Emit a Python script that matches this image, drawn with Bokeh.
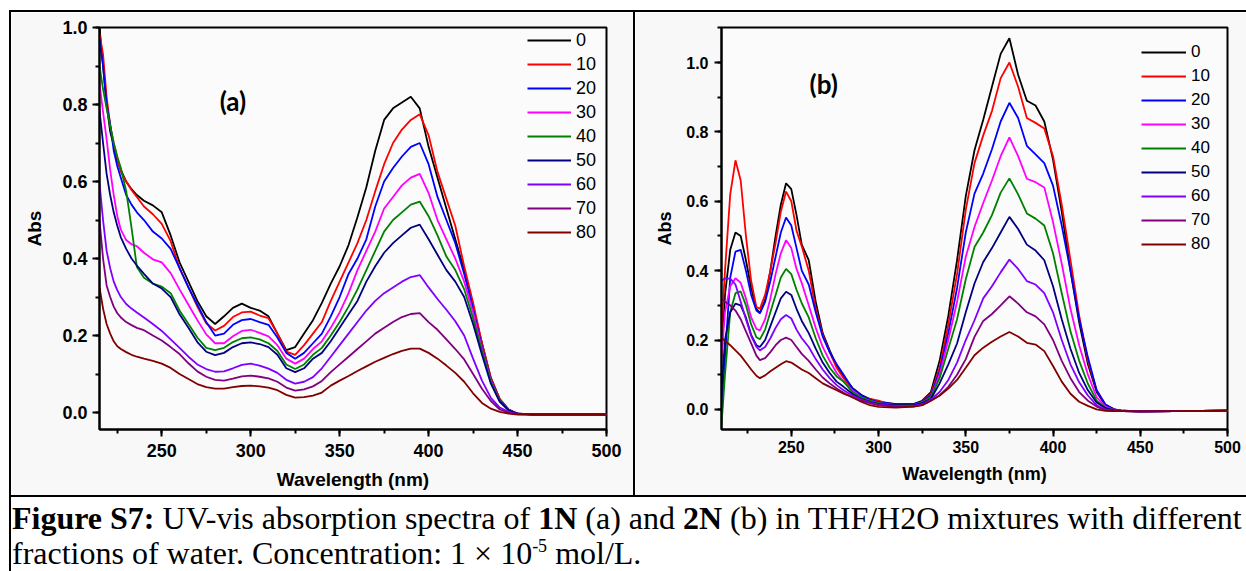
from bokeh.plotting import figure
from bokeh.models import (Legend, LegendItem, Label, SingleIntervalTicker,
                          PrintfTickFormatter, Range1d, Div)
from bokeh.layouts import row, column
from bokeh.embed import file_html
from bokeh.resources import INLINE
from bokeh.core.properties import value

# ---------------- data ----------------
fractions = ["0", "10", "20", "30", "40", "50", "60", "70", "80"]
colors = ["#000000", "#ff0000", "#0000ff", "#ff00ff", "#008000",
          "#000080", "#8000ff", "#800080", "#800000"]

x_label = "Wavelength (nm)"
y_label = "Abs"

# panel (a): compound 1N
wl_a = [215, 217, 219, 221, 223, 225, 227, 230, 233, 236, 240, 245, 250, 255, 260,
        265, 270, 275, 280, 285, 290, 295, 300, 305, 310, 315, 320, 325, 330, 335,
        340, 345, 350, 355, 360, 365, 370, 375, 380, 385, 390, 395, 400, 405, 410,
        415, 420, 425, 430, 435, 440, 445, 450, 460, 470, 480, 490, 500]
a_0 = [1.00, 0.90, 0.80, 0.73, 0.695, 0.655, 0.63, 0.60, 0.58, 0.565, 0.55, 0.538, 0.52, 0.46, 0.39,
       0.34, 0.29, 0.25, 0.23, 0.25, 0.272, 0.283, 0.272, 0.265, 0.25, 0.205, 0.162, 0.17, 0.205, 0.24,
       0.285, 0.335, 0.38, 0.435, 0.507, 0.585, 0.68, 0.76, 0.79, 0.805, 0.82, 0.79, 0.69, 0.61, 0.53,
       0.45, 0.37, 0.275, 0.18, 0.09, 0.035, 0.008, -0.003, -0.005, -0.005, -0.005, -0.005, -0.005]
a_10 = [0.985, 0.93, 0.82, 0.745, 0.70, 0.66, 0.625, 0.60, 0.578, 0.56, 0.535, 0.515, 0.49, 0.445, 0.375,
        0.325, 0.275, 0.232, 0.213, 0.225, 0.248, 0.26, 0.262, 0.252, 0.245, 0.205, 0.158, 0.15, 0.175, 0.205,
        0.235, 0.29, 0.34, 0.39, 0.44, 0.50, 0.575, 0.645, 0.70, 0.735, 0.76, 0.775, 0.72, 0.625, 0.555,
        0.485, 0.38, 0.285, 0.18, 0.09, 0.035, 0.008, -0.003, -0.005, -0.005, -0.005, -0.005, -0.005]
a_20 = [0.97, 0.90, 0.80, 0.75, 0.68, 0.64, 0.61, 0.565, 0.54, 0.52, 0.50, 0.47, 0.452, 0.425, 0.375,
        0.325, 0.28, 0.235, 0.20, 0.205, 0.228, 0.24, 0.243, 0.235, 0.228, 0.195, 0.155, 0.14, 0.155, 0.18,
        0.205, 0.25, 0.30, 0.36, 0.40, 0.45, 0.535, 0.60, 0.635, 0.665, 0.69, 0.70, 0.645, 0.56, 0.50,
        0.44, 0.36, 0.27, 0.17, 0.085, 0.032, 0.007, -0.003, -0.005, -0.005, -0.005, -0.005, -0.005]
a_30 = [0.855, 0.78, 0.71, 0.63, 0.565, 0.51, 0.475, 0.448, 0.437, 0.432, 0.415, 0.398, 0.39, 0.362, 0.32,
        0.28, 0.24, 0.203, 0.18, 0.18, 0.198, 0.212, 0.215, 0.207, 0.198, 0.175, 0.14, 0.127, 0.14, 0.165,
        0.185, 0.22, 0.26, 0.31, 0.37, 0.42, 0.47, 0.53, 0.56, 0.59, 0.61, 0.62, 0.57, 0.50, 0.45,
        0.40, 0.34, 0.26, 0.165, 0.082, 0.03, 0.006, -0.003, -0.005, -0.005, -0.005, -0.005, -0.005]
a_40 = [0.90, 0.84, 0.79, 0.745, 0.70, 0.665, 0.635, 0.575, 0.48, 0.378, 0.35, 0.335, 0.327, 0.31, 0.265,
        0.23, 0.195, 0.168, 0.162, 0.168, 0.183, 0.193, 0.195, 0.19, 0.18, 0.16, 0.125, 0.113, 0.125, 0.15,
        0.168, 0.20, 0.235, 0.275, 0.32, 0.37, 0.42, 0.47, 0.50, 0.52, 0.54, 0.548, 0.51, 0.46, 0.405,
        0.37, 0.32, 0.245, 0.16, 0.08, 0.03, 0.006, -0.003, -0.005, -0.005, -0.005, -0.005, -0.005]
a_50 = [0.784, 0.70, 0.62, 0.565, 0.52, 0.485, 0.455, 0.425, 0.40, 0.382, 0.36, 0.335, 0.322, 0.30, 0.255,
        0.22, 0.183, 0.158, 0.149, 0.155, 0.17, 0.18, 0.182, 0.178, 0.17, 0.15, 0.115, 0.105, 0.115, 0.14,
        0.155, 0.185, 0.22, 0.255, 0.29, 0.34, 0.38, 0.415, 0.44, 0.46, 0.48, 0.488, 0.45, 0.41, 0.37,
        0.34, 0.30, 0.23, 0.15, 0.075, 0.028, 0.006, -0.003, -0.005, -0.005, -0.005, -0.005, -0.005]
a_60 = [0.595, 0.50, 0.42, 0.375, 0.34, 0.318, 0.30, 0.282, 0.27, 0.26, 0.247, 0.23, 0.212, 0.19, 0.168,
        0.145, 0.125, 0.113, 0.106, 0.107, 0.115, 0.124, 0.127, 0.122, 0.114, 0.103, 0.085, 0.075, 0.08, 0.092,
        0.115, 0.145, 0.175, 0.205, 0.235, 0.265, 0.29, 0.31, 0.325, 0.34, 0.352, 0.357, 0.325, 0.295, 0.267,
        0.237, 0.20, 0.14, 0.083, 0.038, 0.013, 0.002, -0.004, -0.005, -0.005, -0.005, -0.005, -0.005]
a_70 = [0.50, 0.40, 0.33, 0.30, 0.275, 0.258, 0.247, 0.235, 0.227, 0.22, 0.214, 0.20, 0.187, 0.17, 0.152,
        0.128, 0.107, 0.093, 0.085, 0.083, 0.088, 0.094, 0.096, 0.093, 0.089, 0.08, 0.065, 0.057, 0.06, 0.068,
        0.082, 0.105, 0.125, 0.145, 0.165, 0.185, 0.205, 0.22, 0.235, 0.248, 0.256, 0.258, 0.235, 0.215, 0.19,
        0.165, 0.138, 0.10, 0.062, 0.03, 0.008, 0.0, -0.004, -0.005, -0.005, -0.005, -0.005, -0.005]
a_80 = [0.325, 0.27, 0.23, 0.205, 0.185, 0.172, 0.165, 0.157, 0.15, 0.145, 0.14, 0.134, 0.127, 0.116, 0.10,
        0.087, 0.074, 0.066, 0.062, 0.062, 0.066, 0.069, 0.07, 0.068, 0.065, 0.058, 0.046, 0.039, 0.04, 0.044,
        0.052, 0.07, 0.083, 0.095, 0.108, 0.12, 0.132, 0.142, 0.152, 0.16, 0.166, 0.166, 0.155, 0.14, 0.122,
        0.103, 0.08, 0.05, 0.025, 0.01, 0.002, -0.003, -0.005, -0.005, -0.005, -0.005, -0.005, -0.005]

# panel (b): compound 2N
wl_b = [210, 212, 215, 218, 221, 224, 227, 230, 232, 235, 238, 241, 244, 247, 250, 253, 256,
        260, 264, 268, 272, 276, 280, 285, 290, 295, 300, 310, 320,
        325, 330, 335, 340, 345, 350, 355, 360, 365, 370, 375, 380, 385, 390, 395, 400,
        405, 410, 415, 420, 425, 430, 435, 440, 450, 470, 500]
b_0 = [0.15, 0.33, 0.46, 0.51, 0.50, 0.43, 0.35, 0.29, 0.278, 0.315, 0.40, 0.50, 0.59, 0.652, 0.635, 0.56, 0.475,
       0.43, 0.31, 0.22, 0.17, 0.125, 0.095, 0.062, 0.042, 0.03, 0.022, 0.015, 0.015,
       0.025, 0.05, 0.14, 0.27, 0.43, 0.615, 0.747, 0.835, 0.93, 1.025, 1.07, 0.965, 0.89, 0.876, 0.83, 0.72,
       0.57, 0.40, 0.25, 0.13, 0.05, 0.012, 0.0, -0.004, -0.006, -0.005, -0.004]
b_10 = [0.228, 0.40, 0.62, 0.718, 0.66, 0.50, 0.37, 0.295, 0.29, 0.33, 0.40, 0.48, 0.57, 0.628, 0.60, 0.515, 0.47,
        0.40, 0.29, 0.215, 0.165, 0.12, 0.09, 0.055, 0.038, 0.03, 0.025, 0.008, 0.012,
        0.022, 0.045, 0.12, 0.245, 0.39, 0.575, 0.71, 0.79, 0.86, 0.955, 1.0, 0.93, 0.84, 0.826, 0.81, 0.73,
        0.59, 0.43, 0.27, 0.14, 0.055, 0.014, 0.0, -0.004, -0.006, -0.005, -0.004]
b_20 = [-0.03, 0.15, 0.38, 0.455, 0.46, 0.40, 0.33, 0.285, 0.277, 0.31, 0.37, 0.44, 0.51, 0.553, 0.53, 0.465, 0.40,
        0.36, 0.28, 0.21, 0.165, 0.13, 0.10, 0.06, 0.04, 0.028, 0.02, 0.015, 0.015,
        0.022, 0.04, 0.11, 0.22, 0.35, 0.51, 0.622, 0.68, 0.75, 0.83, 0.884, 0.84, 0.76, 0.735, 0.71, 0.645,
        0.53, 0.40, 0.26, 0.15, 0.055, 0.014, 0.0, -0.004, -0.006, -0.005, -0.004]
b_30 = [0.15, 0.28, 0.355, 0.378, 0.365, 0.32, 0.265, 0.232, 0.228, 0.26, 0.32, 0.39, 0.45, 0.488, 0.465, 0.405, 0.364,
        0.30, 0.235, 0.18, 0.14, 0.105, 0.08, 0.055, 0.035, 0.025, 0.018, 0.012, 0.012,
        0.02, 0.035, 0.10, 0.20, 0.31, 0.44, 0.526, 0.595, 0.66, 0.73, 0.784, 0.73, 0.665, 0.655, 0.64, 0.54,
        0.42, 0.29, 0.185, 0.10, 0.035, 0.008, -0.002, -0.005, -0.006, -0.005, -0.004]
b_40 = [-0.045, 0.10, 0.28, 0.335, 0.34, 0.30, 0.245, 0.208, 0.202, 0.23, 0.28, 0.33, 0.38, 0.405, 0.39, 0.345, 0.306,
        0.265, 0.205, 0.155, 0.12, 0.095, 0.08, 0.05, 0.035, 0.025, 0.018, 0.012, 0.012,
        0.02, 0.035, 0.09, 0.175, 0.26, 0.375, 0.468, 0.51, 0.56, 0.625, 0.666, 0.62, 0.565, 0.55, 0.53, 0.45,
        0.335, 0.225, 0.14, 0.074, 0.025, 0.005, -0.003, -0.005, -0.006, -0.005, -0.004]
b_50 = [0.05, 0.20, 0.28, 0.305, 0.30, 0.265, 0.215, 0.185, 0.18, 0.20, 0.24, 0.28, 0.32, 0.339, 0.33, 0.29, 0.255,
        0.22, 0.175, 0.135, 0.105, 0.08, 0.065, 0.045, 0.03, 0.022, 0.015, 0.012, 0.012,
        0.018, 0.03, 0.075, 0.13, 0.19, 0.28, 0.363, 0.425, 0.465, 0.51, 0.555, 0.52, 0.475, 0.458, 0.43, 0.355,
        0.26, 0.175, 0.105, 0.055, 0.02, 0.004, -0.003, -0.005, -0.006, -0.005, -0.004]
b_60 = [0.37, 0.378, 0.377, 0.36, 0.31, 0.26, 0.212, 0.18, 0.17, 0.18, 0.205, 0.235, 0.26, 0.272, 0.262, 0.23, 0.205,
        0.18, 0.145, 0.115, 0.09, 0.07, 0.055, 0.04, 0.028, 0.02, 0.014, 0.01, 0.01,
        0.015, 0.028, 0.05, 0.085, 0.135, 0.20, 0.257, 0.32, 0.355, 0.395, 0.432, 0.405, 0.37, 0.36, 0.335, 0.28,
        0.20, 0.13, 0.078, 0.04, 0.012, 0.0, -0.004, -0.005, -0.006, -0.005, -0.004]
b_70 = [0.32, 0.31, 0.30, 0.285, 0.26, 0.225, 0.19, 0.155, 0.142, 0.148, 0.165, 0.185, 0.20, 0.207, 0.20, 0.18, 0.16,
        0.14, 0.115, 0.092, 0.075, 0.06, 0.048, 0.035, 0.025, 0.018, 0.012, 0.008, 0.008,
        0.012, 0.025, 0.04, 0.065, 0.10, 0.145, 0.209, 0.255, 0.275, 0.30, 0.326, 0.305, 0.28, 0.268, 0.245, 0.20,
        0.14, 0.09, 0.05, 0.025, 0.008, -0.002, -0.005, -0.005, -0.006, -0.005, -0.004]
b_80 = [0.205, 0.198, 0.185, 0.17, 0.155, 0.135, 0.115, 0.097, 0.09, 0.098, 0.11, 0.12, 0.13, 0.139, 0.135, 0.125, 0.115,
        0.105, 0.09, 0.075, 0.065, 0.055, 0.045, 0.035, 0.022, 0.012, 0.007, 0.005, 0.008,
        0.012, 0.025, 0.04, 0.06, 0.085, 0.12, 0.156, 0.178, 0.195, 0.21, 0.223, 0.21, 0.192, 0.187, 0.168, 0.125,
        0.08, 0.045, 0.022, 0.01, 0.0, -0.004, -0.005, -0.005, -0.006, -0.005, -0.004]

series_a = [a_0, a_10, a_20, a_30, a_40, a_50, a_60, a_70, a_80]
series_b = [b_0, b_10, b_20, b_30, b_40, b_50, b_60, b_70, b_80]

SANS = "Liberation Sans"


def make_panel(wl, series, width, height, borders, xr, yr, tick_size, label_size,
               x_tick_standoff, x_label_standoff, y_tick_standoff, y_label_standoff,
               legend_loc, legend_font_size, glyph_w, tag, tag_xy):
    p = figure(width=width, height=height, output_backend="svg", toolbar_location=None,
               x_range=Range1d(*xr), y_range=Range1d(*yr))
    p.min_border_left, p.min_border_right, p.min_border_top, p.min_border_bottom = borders
    p.background_fill_color = "#fbfbfb"
    p.border_fill_color = "#f8f8f8"
    p.outline_line_color = "black"
    p.outline_line_width = 2
    p.xgrid.visible = False
    p.ygrid.visible = False

    renderers = []
    for vals, col in zip(series, colors):
        r = p.line(wl, vals, line_color=col, line_width=1.8)
        renderers.append(r)

    p.xaxis.ticker = SingleIntervalTicker(interval=50, num_minor_ticks=2)
    p.yaxis.ticker = SingleIntervalTicker(interval=0.2, num_minor_ticks=2)
    p.xaxis.formatter = PrintfTickFormatter(format="%d")
    p.yaxis.formatter = PrintfTickFormatter(format="%.1f")
    p.xaxis.axis_label = x_label
    p.yaxis.axis_label = y_label
    for ax in (p.xaxis, p.yaxis):
        ax.axis_line_width = 2
        ax.axis_line_color = "black"
        ax.major_tick_line_width = 2
        ax.minor_tick_line_width = 2
        ax.major_tick_line_color = "black"
        ax.minor_tick_line_color = "black"
        ax.major_tick_out = 7
        ax.major_tick_in = 0
        ax.minor_tick_out = 4
        ax.minor_tick_in = 0
        ax.major_label_text_font = SANS
        ax.major_label_text_font_style = "bold"
        ax.major_label_text_font_size = tick_size
        ax.major_label_text_color = "black"
        ax.axis_label_text_font = SANS
        ax.axis_label_text_font_style = "bold"
        ax.axis_label_text_font_size = label_size
        ax.axis_label_text_color = "black"
    p.xaxis.major_label_standoff = x_tick_standoff
    p.xaxis.axis_label_standoff = x_label_standoff
    p.yaxis.major_label_standoff = y_tick_standoff
    p.yaxis.axis_label_standoff = y_label_standoff

    items = [LegendItem(label=value(f), renderers=[r]) for f, r in zip(fractions, renderers)]
    legend = Legend(items=items, location=legend_loc, padding=0, margin=0, spacing=2,
                    glyph_width=glyph_w, glyph_height=22, label_height=22, label_standoff=5,
                    border_line_color=None, background_fill_alpha=0,
                    label_text_font=SANS, label_text_font_size=legend_font_size,
                    label_text_color="black")
    p.add_layout(legend)

    p.add_layout(Label(x=tag_xy[0], y=tag_xy[1], text=tag, text_font="Lato",
                       text_font_style="bold", text_font_size="26px",
                       text_align="center", text_baseline="middle", text_color="black"))
    return p


# both plots share top/bottom borders (Bokeh aligns frames in a row)
pa = make_panel(wl_a, series_a, 622, 483, (88, 27, 15, 66), (215, 500), (-0.044, 1.0),
                "18px", "19px", 7, 9, 5, 14,
                (428, 186), "18px", 44, "(a)", (290, 0.81))
pb = make_panel(wl_b, series_b, 611, 483, (86, 19, 15, 66), (210, 500), (-0.058, 1.101),
                "16px", "18px", 4, 8, 6, 8,
                (420, 174), "17px", 45, "(b)", (268.6, 0.938))

BLACK = {"background-color": "black"}
left_gap = Div(width=9, height=571, margin=0)
top_gap = Div(width=1237, height=10, margin=0)
left_line = Div(width=2, height=561, margin=0, styles=BLACK)
top_line = Div(width=1235, height=2, margin=0, styles=BLACK)
mid_line = Div(width=2, height=483, margin=0, styles=BLACK)
h_line = Div(width=1235, height=2, margin=0, styles=BLACK)

caption_html = (
    "<div style=\"font-family:'Liberation Serif','Times New Roman',serif; font-size:32px; "
    "line-height:35px; white-space:nowrap; color:black; padding:4px 0 0 1px;\">"
    "<b>Figure S7:</b> UV-vis absorption spectra of <b>1N</b> (a) and <b>2N</b> (b) in "
    "THF/H2O mixtures with different<br>fractions of water. Concentration: 1 &times; "
    "10<sup style=\"font-size:18px; line-height:0\">-5</sup> mol/L.</div>"
)
caption = Div(text=caption_html, width=1235, height=74, margin=0,
              styles={"overflow": "hidden"})

inner = column(top_line, row(pa, mid_line, pb), h_line, caption)
layout = row(left_gap, column(top_gap, row(left_line, inner)))

open("out.html", "w").write(file_html(layout, INLINE))
